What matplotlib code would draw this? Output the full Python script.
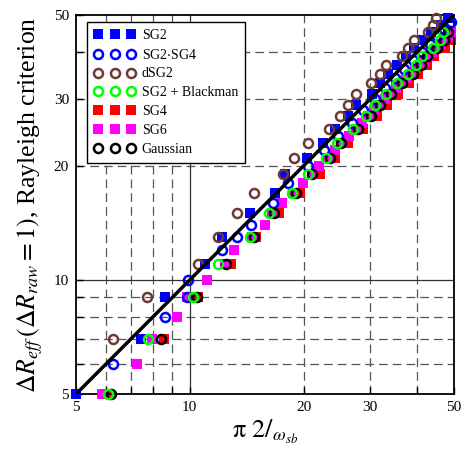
import matplotlib
matplotlib.use("Agg")
import matplotlib.pyplot as plt
from matplotlib.ticker import FixedLocator, NullFormatter, FixedFormatter

plt.rcParams['font.family'] = ['Liberation Serif', 'DejaVu Serif']
plt.rcParams['mathtext.fontset'] = 'stix'

# data (x = pi 2/omega_sb, y = delta R_eff)
sg2_y = [5, 7, 9, 11, 13, 15, 17, 19, 21, 23, 25, 27, 29, 31, 33, 35, 37, 39, 41, 43, 45, 47, 49]
sg2_x = [5.0, 7.43, 8.6, 11.0, 12.2, 14.4, 16.8, 17.9, 20.4, 22.5, 24.3, 26.3, 27.6, 30.3, 31.9,
         33.5, 35.3, 37.4, 39.3, 41.5, 43.6, 46.3, 48.3]

sg2sg4_y = [6, 8, 9, 10, 12, 13, 14, 16, 18, 20, 22, 24, 26, 28, 30, 32, 34, 36, 38, 40, 42, 44, 46, 48]
sg2sg4_x = [6.27, 8.6, 9.81, 9.9, 12.2, 13.36, 14.5, 16.6, 18.2, 20.6, 22.6, 24.6, 26.8, 28.8, 30.9,
            32.9, 35.0, 37.0, 39.0, 41.1, 43.1, 45.2, 47.2, 49.2]

dsg2_y = [7, 9, 11, 13, 15, 17, 19, 21, 23, 25, 27, 29, 31, 33, 35, 37, 39, 41, 43, 45, 47, 49]
dsg2_x = [6.25, 7.69, 10.53, 11.9, 13.3, 14.8, 17.6, 18.9, 20.5, 23.3, 25.0, 26.3, 27.6, 30.2, 31.9,
          33.0, 36.4, 37.8, 39.3, 42.8, 44.1, 44.7]

blackman_y = [5, 7, 9, 11, 13, 15, 17, 19, 21, 23, 25, 27, 29, 31, 33, 35, 37, 39, 41, 43, 45]
blackman_x = [6.07, 7.77, 10.2, 11.9, 14.4, 16.2, 18.6, 20.5, 22.9, 24.5, 27.1, 29.3, 31.0, 33.0,
              35.4, 37.8, 39.6, 41.1, 43.9, 45.9, 46.7]

sg4_y = [5, 7, 9, 11, 13, 15, 17, 19, 21, 23, 25, 27, 29, 31, 33, 35, 37, 39, 41, 43]
sg4_x = [6.1, 8.56, 10.5, 12.86, 15.0, 17.2, 19.6, 22.1, 24.2, 26.3, 28.8, 31.2, 33.2, 35.6, 38.0,
         40.2, 42.5, 44.4, 47.3, 49.0]

sg6_y = [5, 6, 7, 8, 9, 10, 11, 12, 13, 14, 15, 16, 17, 18, 19, 20, 21, 22, 23, 24, 25, 26, 27, 28,
         29, 30, 31, 32, 33, 34, 35, 36, 37, 38, 39, 40, 41, 42, 43, 44, 45]
sg6_x = [5.85, 7.24, 7.93, 9.26, 9.85, 11.1, 12.4, 13.1, 14.6, 15.8, 16.5, 17.5, 18.8, 19.9, 21.0,
         22.0, 23.2, 24.2, 25.3, 26.4, 27.5, 28.6, 29.7, 30.7, 31.8, 32.9, 34.0, 35.1, 36.2, 37.3,
         38.4, 39.5, 40.6, 41.6, 42.7, 43.8, 44.9, 46.0, 47.0, 48.1, 49.2]

gauss_y = [5, 7, 9, 11, 13, 15, 17, 19, 21, 23, 25, 27, 29, 31, 33, 35, 37, 39, 41, 43, 45]
gauss_x = [6.18, 8.4, 10.43, 12.5, 14.8, 16.7, 19.1, 21.1, 23.5, 25.2, 27.9, 30.1, 31.9, 34.0,
           36.4, 38.9, 40.8, 42.4, 45.2, 47.2, 48.1]

ideal = [5, 50]

major_ticks = [5, 10, 20, 30, 50]
minor_ticks = [6, 7, 8, 9, 40]

fig = plt.figure(figsize=(4.62, 4.54), dpi=100)
ax = fig.add_axes([0.1645, 0.132, 0.818, 0.835])
ax.set_xscale('log')
ax.set_yscale('log')
ax.set_xlim(5, 50)
ax.set_ylim(5, 50)

# grid: solid at 10, dashed elsewhere
grid_col = '#555555'
for v in [6, 7, 8, 9, 20, 30, 40]:
    ax.axvline(v, color=grid_col, lw=0.9, ls=(0, (7, 4)), zorder=0)
    ax.axhline(v, color=grid_col, lw=0.9, ls=(0, (7, 4)), zorder=0)
ax.axvline(10, color='#333333', lw=0.9, zorder=0)
ax.axhline(10, color='#333333', lw=0.9, zorder=0)

ms = 6.5
sq = dict(ls='none', marker='s', ms=ms, mew=0, clip_on=False)
ci = dict(ls='none', marker='o', ms=ms, mfc='none', mew=1.8, clip_on=False)

ax.plot(sg2_x, sg2_y, color='#0000ff', label='SG2', zorder=4, **sq)
ax.plot(sg2sg4_x, sg2sg4_y, mec='#0000ff', label='SG2$\\cdot$SG4', zorder=5, **ci)
ax.plot(dsg2_x, dsg2_y, mec='#6e3b32', label='dSG2', zorder=5, **ci)
ax.plot(blackman_x, blackman_y, mec='#00ff00', label='SG2 + Blackman', zorder=7, **ci)
ax.plot(sg4_x, sg4_y, color='#ff0000', label='SG4', zorder=2, **sq)
ax.plot(sg6_x, sg6_y, color='#ff00ff', label='SG6', zorder=3, **sq)
ax.plot(gauss_x, gauss_y, mec='black', label='Gaussian', zorder=6, **ci)

ax.plot(ideal, ideal, color='black', lw=2.5, zorder=8)

ax.xaxis.set_major_locator(FixedLocator(major_ticks))
ax.xaxis.set_major_formatter(FixedFormatter([str(t) for t in major_ticks]))
ax.xaxis.set_minor_locator(FixedLocator(minor_ticks))
ax.xaxis.set_minor_formatter(NullFormatter())
ax.yaxis.set_major_locator(FixedLocator(major_ticks))
ax.yaxis.set_major_formatter(FixedFormatter([str(t) for t in major_ticks]))
ax.yaxis.set_minor_locator(FixedLocator(minor_ticks))
ax.yaxis.set_minor_formatter(NullFormatter())
ax.tick_params(which='both', direction='in', labelsize=11, length=5, width=1, pad=5)

for s in ax.spines.values():
    s.set_linewidth(1.3)

ax.set_xlabel(r'$\mathrm{\pi}\ 2/_{\omega_{sb}}$', fontsize=19, labelpad=3)
ax.set_ylabel(r'$\Delta R_{eff}\,(\Delta R_{raw}=1)$, Rayleigh criterion', fontsize=18.5, labelpad=6)

leg = ax.legend(loc='upper left', numpoints=3, fontsize=10, handlelength=3.0, handletextpad=0.45,
                labelspacing=0.42, borderpad=0.5, borderaxespad=0, fancybox=False,
                edgecolor='black', framealpha=1, bbox_to_anchor=(0.029, 0.982))
leg.get_frame().set_linewidth(1.0)
leg.set_zorder(10)

fig.savefig('out.png', dpi=100)
